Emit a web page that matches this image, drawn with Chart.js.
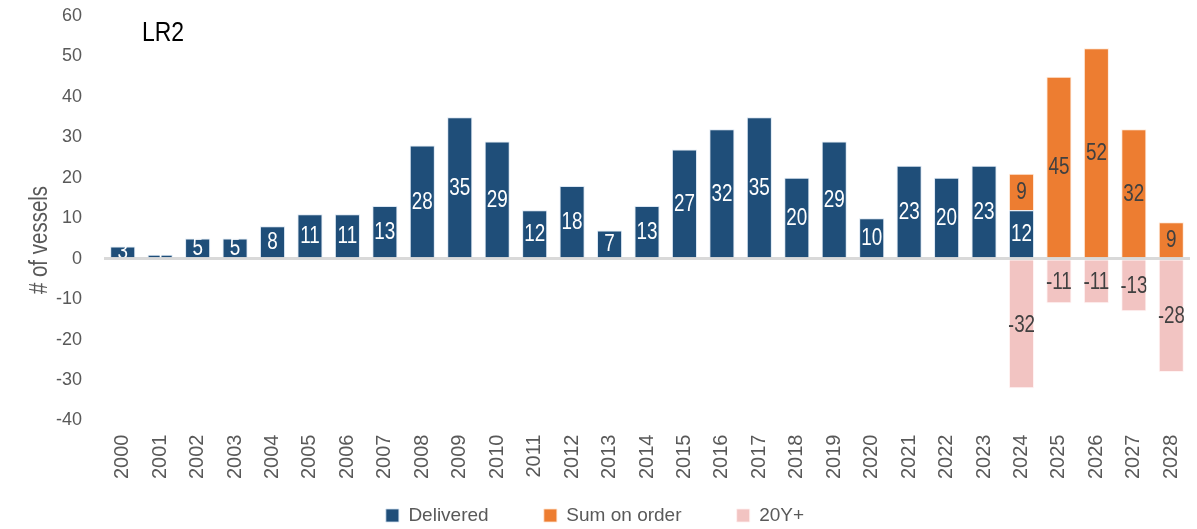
<!DOCTYPE html>
<html lang="en">
<head>
    <meta charset="UTF-8">
    <title>LR2 vessels</title>
    <script src="https://cdn.jsdelivr.net/npm/chart.js"></script>
    <style>
        html, body { margin: 0; padding: 0; background: #fff; }
        #wrap { width: 1197px; height: 529px; position: relative; }
    </style>
</head>
<body>
<div id="wrap"><canvas id="chartLR2"></canvas></div>

<script>
    const years = ["2000","2001","2002","2003","2004","2005","2006","2007","2008","2009",
                   "2010","2011","2012","2013","2014","2015","2016","2017","2018","2019",
                   "2020","2021","2022","2023","2024","2025","2026","2027","2028"];
    const delivered = [3,1,5,5,8,11,11,13,28,35,29,12,18,7,13,27,32,35,20,29,10,23,20,23,12,null,null,null,null];
    const onOrder = [null,null,null,null,null,null,null,null,null,null,null,null,null,null,null,null,null,null,null,null,null,null,null,null,9,45,52,32,9];
    const over20y = [null,null,null,null,null,null,null,null,null,null,null,null,null,null,null,null,null,null,null,null,null,null,null,null,-32,-11,-11,-13,-28];
    const yTicks = [-40,-30,-20,-10,0,10,20,30,40,50,60];

    const FONT = "'Liberation Sans', Arial, sans-serif";
    const NARROW = 0.82; // original uses a narrow face, squeeze the hand drawn text

    function narrowText(ctx, text, x, y) {
        ctx.save();
        ctx.translate(x, y);
        ctx.scale(NARROW, 1);
        ctx.fillText(text, 0, 0);
        ctx.restore();
    }

    // labels in the middle of each bar, clipped to the bar like the original
    const barLabels = {
        id: "barLabels",
        afterDatasetsDraw(chart) {
            const ctx = chart.ctx;
            chart.data.datasets.forEach((ds, i) => {
                const meta = chart.getDatasetMeta(i);
                meta.data.forEach((bar, j) => {
                    const v = ds.data[j];
                    if (v === null || v === undefined) return;
                    const top = Math.min(bar.y, bar.base);
                    const h = Math.abs(bar.base - bar.y);
                    ctx.save();
                    ctx.beginPath();
                    ctx.rect(bar.x - bar.width / 2, top, bar.width, h);
                    ctx.clip();
                    ctx.font = "23px " + FONT;
                    ctx.fillStyle = i === 0 ? "#ffffff" : "#404040";
                    ctx.textAlign = "center";
                    ctx.textBaseline = "middle";
                    narrowText(ctx, String(v), bar.x, top + h / 2 + 1);
                    ctx.restore();
                });
            });
        },
        afterDraw(chart) {
            const ctx = chart.ctx;
            ctx.save();
            ctx.font = "28px " + FONT;
            ctx.fillStyle = "#000000";
            ctx.textBaseline = "middle";
            narrowText(ctx, "LR2", 142, 33);
            ctx.font = "25px " + FONT;
            ctx.fillStyle = "#595959";
            ctx.translate(40, 240);
            ctx.rotate(-Math.PI / 2);
            ctx.textAlign = "center";
            narrowText(ctx, "# of vessels", 0, 0);
            ctx.restore();
        }
    };

    new Chart(document.getElementById("chartLR2"), {
        type: "bar",
        data: {
            labels: years,
            datasets: [
                { label: "Delivered", data: delivered, backgroundColor: "#1F4E79",
                  borderColor: "rgba(210,225,240,0.8)", borderWidth: 1 },
                { label: "Sum on order", data: onOrder, backgroundColor: "#ED7D31",
                  borderColor: "rgba(255,230,210,0.8)", borderWidth: 1 },
                { label: "20Y+", data: over20y, backgroundColor: "#F2C4C2",
                  borderColor: "rgba(255,240,240,0.8)", borderWidth: 1 }
            ]
        },
        options: {
            responsive: true,
            maintainAspectRatio: false,
            animation: false,
            layout: { padding: { left: 0, right: 7, top: 16, bottom: -6 } },
            datasets: { bar: { barPercentage: 0.67, categoryPercentage: 1 } },
            plugins: {
                legend: {
                    position: "bottom",
                    labels: {
                        boxWidth: 13, boxHeight: 13, padding: 13,
                        color: "#595959",
                        font: { family: FONT, size: 19 },
                        generateLabels(chart) {
                            const items = Chart.defaults.plugins.legend.labels.generateLabels(chart);
                            items.forEach((it, k) => { if (k < items.length - 1) it.text += "        "; });
                            return items;
                        }
                    }
                },
                tooltip: { enabled: false }
            },
            scales: {
                x: {
                    stacked: true,
                    grid: { display: false, drawTicks: false },
                    border: { display: false },
                    afterFit(scale) { scale.paddingRight = 0; },
                    ticks: {
                        color: "#595959",
                        font: { family: FONT, size: 20 },
                        minRotation: 90, maxRotation: 90,
                        padding: 14
                    }
                },
                y: {
                    stacked: true,
                    min: -40, max: 60,
                    afterFit(scale) {
                        scale.width = 104;
                        scale.paddingTop = 0;
                        scale.paddingBottom = 0;
                    },
                    afterBuildTicks(scale) { scale.ticks = yTicks.map(v => ({ value: v })); },
                    border: { display: false },
                    grid: {
                        drawTicks: false,
                        color: c => c.tick && c.tick.value === 0 ? "#d9d9d9" : "rgba(0,0,0,0)",
                        lineWidth: c => c.tick && c.tick.value === 0 ? 3 : 0
                    },
                    ticks: {
                        color: "#595959",
                        font: { family: FONT, size: 18 },
                        padding: 22
                    }
                }
            }
        },
        plugins: [barLabels]
    });
</script>
</body>
</html>
